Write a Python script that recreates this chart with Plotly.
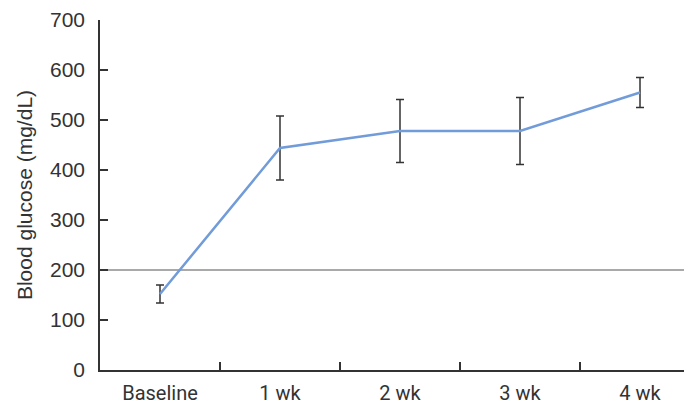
import plotly.graph_objects as go

categories = ["Baseline", "1 wk", "2 wk", "3 wk", "4 wk"]
glucose_mean = [152, 444, 478, 478, 555]
glucose_sd = [18, 64, 63, 67, 30]
threshold = 200
y_ticks = [0, 100, 200, 300, 400, 500, 600, 700]

fig = go.Figure()
fig.add_trace(go.Scatter(
    x=categories, y=glucose_mean, mode="lines",
    line=dict(color="#719cd9", width=2.5),
    error_y=dict(type="data", array=glucose_sd, symmetric=True,
                 color="#333333", thickness=1.5, width=4),
    showlegend=False,
))

fig.add_shape(type="line", xref="paper", yref="y", x0=0, x1=1,
              y0=threshold, y1=threshold,
              line=dict(color="#8c8c8c", width=1.5), layer="below")

# page has an 8px body margin, so the figure is offset by 8px
fig.update_layout(
    width=684, height=397,
    margin=dict(l=92, r=0, t=12, b=33),
    paper_bgcolor="white", plot_bgcolor="white",
    font=dict(family="Liberation Sans, Arial, sans-serif", color="#333333"),
)
fig.update_xaxes(
    type="category", range=[-0.5, 4.5 - 8 / 120],
    showline=True, linecolor="#333333", linewidth=1.5,
    ticks="inside", ticklen=8, tickcolor="#333333", tickwidth=1.5,
    tickson="boundaries", showgrid=False, zeroline=False,
    ticklabelstandoff=4,
    tickfont=dict(family="Roboto, sans-serif", size=20, color="#333333"),
)
fig.update_yaxes(
    range=[0, 700], tickvals=y_ticks,
    showline=True, linecolor="#333333", linewidth=1.5,
    ticks="inside", ticklen=8, tickcolor="#333333", tickwidth=1.5,
    showgrid=False, zeroline=False,
    ticklabelstandoff=9,
    tickfont=dict(family="Liberation Sans, Arial, sans-serif", size=21, color="#333333"),
    title=dict(text="Blood glucose (mg/dL)",
               font=dict(family="Liberation Sans, Arial, sans-serif", size=21, color="#333333"),
               standoff=12),
)

fig.write_html("out.html")
